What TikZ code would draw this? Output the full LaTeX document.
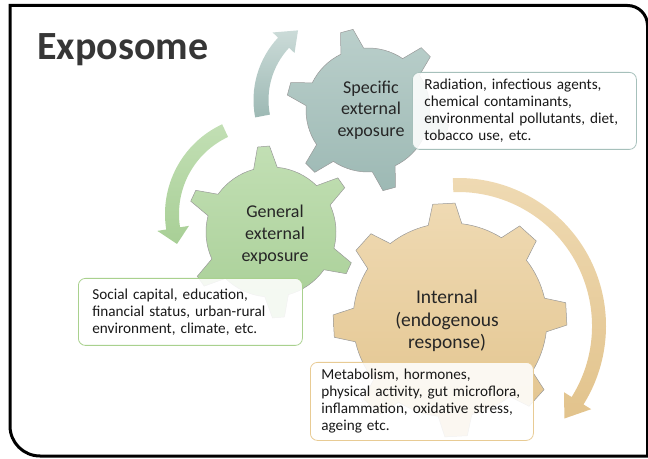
\documentclass[tikz,border=0pt]{standalone}
\usepackage{fontspec}
\setmainfont{Carlito}
\usepackage{xcolor}
\usetikzlibrary{positioning,calc}

\definecolor{tealtop}{HTML}{BACFCB}
\definecolor{tealbot}{HTML}{9DB9B4}
\definecolor{greentop}{HTML}{C2DFB4}
\definecolor{greenbot}{HTML}{A8CF96}
\definecolor{tantop}{HTML}{EFDAB3}
\definecolor{tanbot}{HTML}{E2C38C}
\definecolor{tealline}{HTML}{A6C0BB}
\definecolor{greenline}{HTML}{A9D18E}
\definecolor{tanline}{HTML}{E8CB94}
\definecolor{titlegray}{HTML}{363636}

% gear: style, cx, cy, teeth, inner r, outer r, first tooth angle, base half-angle, tip half-angle
\newcommand{\drawgear}[9]{%
  \pgfmathsetmacro{\gstep}{360/#4}
  \pgfmathtruncatemacro{\glast}{#4-1}
  \shadedraw[#1, shift={(#2,#3)}] ({#7-#8}:#5)
    \foreach \k in {0,...,\glast} {
      -- ({#7+\k*\gstep-#9}:#6) -- ({#7+\k*\gstep+#9}:#6)
      -- ({#7+\k*\gstep+#8}:#5)
      arc[start angle={#7+\k*\gstep+#8}, end angle={#7+(\k+1)*\gstep-#8}, radius=#5]
    } -- cycle;
}
% curved block arrow: style, cx, cy, mid r, half width, start, head base, tip, head half width
\newcommand{\drawcurvedarrow}[9]{%
  \shade[#1, shift={(#2,#3)}] ({#6}:{#4+#5})
    arc[start angle=#6, end angle=#7, radius={#4+#5}]
    -- ({#7}:{#4+#9}) -- ({#8}:{#4}) -- ({#7}:{#4-#9}) -- ({#7}:{#4-#5})
    arc[start angle=#7, end angle=#6, radius={#4-#5}] -- cycle;
}

\begin{document}
\begin{tikzpicture}[x=1pt, y=1pt,
  gearlabel/.style={align=center, text=black!85, inner sep=0pt},
  infobox/.style={rounded corners=7pt, fill=white, fill opacity=0.88, text opacity=1,
    line width=0.8pt, align=left, anchor=north west, text=black!90,
    font=\fontsize{15.2}{17}\selectfont},
  gearedge/.style={draw=black!40, line width=0.5pt}]
\useasboundingbox (0,0) rectangle (648,458);

% frame
\draw[line width=3pt] (10,452.5) -- (627.5,452.5) arc[start angle=90, end angle=0, radius=20]
  -- (647.5,2) -- (40,2) arc[start angle=270, end angle=180, radius=30] -- cycle;

% title
\node[anchor=base west, inner sep=0pt, font=\fontsize{40}{48}\selectfont\bfseries, text=titlegray] (title) at (37,398) {Exposome};

% arrows
\drawcurvedarrow{top color=tealtop!75, bottom color=tealbot}{345}{358}{84}{7.5}{191}{137}{124}{15}
\drawcurvedarrow{top color=greentop, bottom color=greenbot}{264}{244}{92}{7}{115}{189}{199}{16}
\drawcurvedarrow{top color=tantop, bottom color=tanbot}{458}{132}{141}{7}{92}{-32}{-41}{16}

% gears
\drawgear{gearedge, top color=tealtop, bottom color=tealbot}{368}{348}{6}{62}{82}{45}{11}{4.5}
\drawgear{gearedge, top color=greentop, bottom color=greenbot}{271}{226}{6}{65}{86}{35}{10.5}{4}
\drawgear{gearedge, top color=tantop, bottom color=tanbot}{450}{138}{8}{97}{117}{3}{10}{5.5}

% gear labels
\node[gearlabel, font=\fontsize{18}{21.5}\selectfont] (specific) at (371,348) {Specific\\external\\exposure};
\node[gearlabel, font=\fontsize{18}{22}\selectfont] (general) at (275,223) {General\\external\\exposure};
\node[gearlabel, font=\fontsize{19.5}{22.5}\selectfont] (internal) at (447,137) {Internal\\(endogenous\\response)};

% text boxes
\node[infobox, draw=tealline, inner xsep=12pt, text width=200pt, minimum height=77pt] (specbox) at (412,386)
  {Radiation, infectious agents,\\chemical contaminants,\\environmental pollutants, diet,\\tobacco use, etc.};
\node[infobox, draw=greenline, inner xsep=14pt, text width=196pt, minimum height=67pt] (genbox) at (78,180)
  {Social capital, education,\\financial status, urban-rural\\environment, climate, etc.};
\node[infobox, draw=tanline, inner xsep=11pt, text width=201pt, minimum height=78pt] (intbox) at (310,96)
  {Metabolism, hormones,\\physical activity, gut microflora,\\inflammation, oxidative stress,\\ageing etc.};
\end{tikzpicture}
\end{document}
